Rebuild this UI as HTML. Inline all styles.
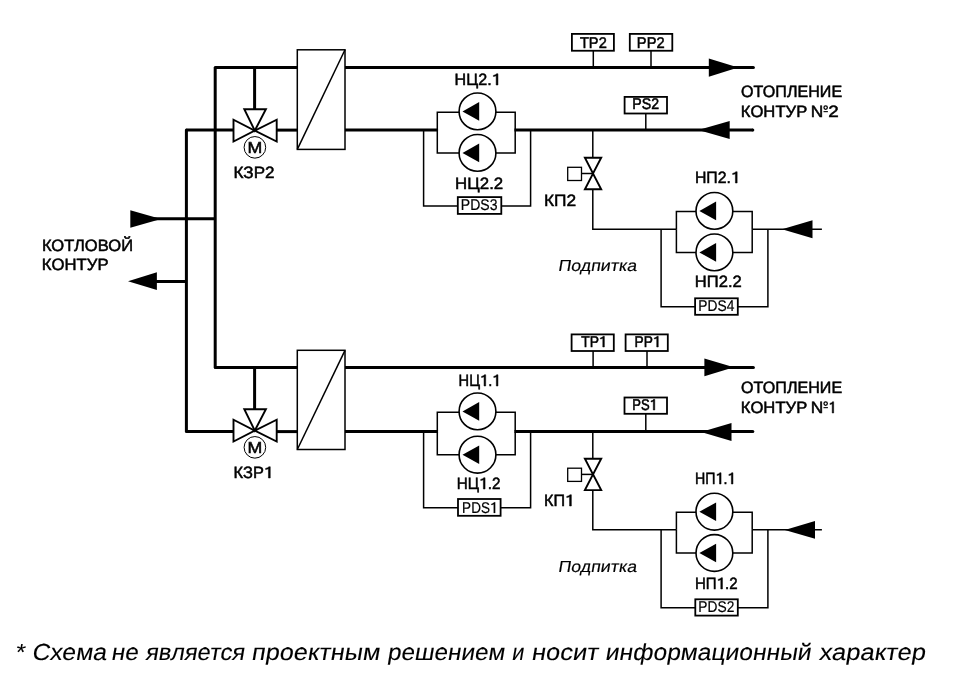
<!DOCTYPE html>
<html><head><meta charset="utf-8"><style>
html,body{margin:0;padding:0;background:#fff;}
svg{display:block;will-change:transform;}
text{font-family:"Liberation Sans",sans-serif;fill:#000;}
</style></head><body>
<svg width="954" height="682" viewBox="0 0 954 682" stroke="#000" fill="none">
<line x1="186.4" y1="130.1" x2="186.4" y2="431.6" stroke-width="3.0" stroke-linecap="round"/>
<line x1="215.2" y1="67.6" x2="215.2" y2="367.4" stroke-width="3.0" stroke-linecap="round"/>
<line x1="215.2" y1="67.6" x2="297.3" y2="67.6" stroke-width="3.0" stroke-linecap="butt"/>
<line x1="345" y1="67.6" x2="753.4" y2="67.6" stroke-width="3.0" stroke-linecap="round"/>
<line x1="186.4" y1="130.1" x2="233.5" y2="130.1" stroke-width="3.0" stroke-linecap="butt"/>
<line x1="276.7" y1="130.1" x2="297.3" y2="130.1" stroke-width="3.0" stroke-linecap="butt"/>
<line x1="345" y1="130.1" x2="438.05" y2="130.1" stroke-width="3.0" stroke-linecap="butt"/>
<line x1="514.45" y1="130.1" x2="752.8" y2="130.1" stroke-width="3.0" stroke-linecap="butt"/>
<circle cx="752.8" cy="130.1" r="1.5" fill="#000" stroke="none"/>
<line x1="254.6" y1="67.6" x2="254.6" y2="109.1" stroke-width="3.0" stroke-linecap="butt"/>
<polygon points="233.50,119.70 233.50,141.50 254.80,130.60" fill="#fff" stroke="#000" stroke-width="1.9" stroke-linejoin="miter"/>
<polygon points="276.70,119.70 276.70,141.50 254.80,130.60" fill="#fff" stroke="#000" stroke-width="1.9" stroke-linejoin="miter"/>
<polygon points="244.30,109.20 265.90,109.20 254.80,130.60" fill="#fff" stroke="#000" stroke-width="1.9" stroke-linejoin="miter"/>
<circle cx="254.9" cy="147.35" r="10.8" fill="#fff" stroke-width="1.0"/>
<text transform="translate(247.58,153) skewX(0.3)" font-size="15.8" textLength="14.85" lengthAdjust="spacingAndGlyphs" stroke="#000" stroke-width="0.5">M</text>
<text transform="translate(233.54,178) skewX(0.3)" font-size="16.4" textLength="41.09" lengthAdjust="spacingAndGlyphs" stroke="#000" stroke-width="0.5">КЗР2</text>
<rect x="297.3" y="49.8" width="47.70" height="99.60" fill="#fff" stroke-width="1.5"/>
<line x1="297.3" y1="149.4" x2="345" y2="49.8" stroke-width="1.5" stroke-linecap="butt"/>
<polyline points="437.3,130.1 437.3,112.30000000000001 515.2,112.30000000000001 515.2,130.1" fill="none" stroke-width="1.5" stroke-linejoin="miter"/>
<polyline points="437.3,130.1 437.3,152.9 515.2,152.9 515.2,130.1" fill="none" stroke-width="1.5" stroke-linejoin="miter"/>
<polyline points="423.6,130.1 423.6,206.1 530.6,206.1 530.6,130.1" fill="none" stroke-width="1.5" stroke-linejoin="miter"/>
<circle cx="477.5" cy="111.4" r="18.4" fill="#fff" stroke-width="1.6"/>
<polygon points="462.50,111.40 479.20,102.10 479.20,120.70" fill="#000" stroke="none" stroke-linejoin="miter"/>
<circle cx="477.5" cy="152.9" r="18.4" fill="#fff" stroke-width="1.6"/>
<polygon points="462.50,152.90 479.20,143.60 479.20,162.20" fill="#000" stroke="none" stroke-linejoin="miter"/>
<rect x="457.8" y="197.1" width="43.50" height="16.80" fill="#fff" stroke-width="1.8"/>
<text transform="translate(460.74,210) skewX(0.3)" font-size="15.5" textLength="36.79" lengthAdjust="spacingAndGlyphs" stroke="#000" stroke-width="0.2">PDS3</text>
<path d="M496.17,85.00 L497.95,85.00 L497.95,73.72 L496.66,73.72 Q495.77,74.91 493.34,75.41 L493.34,76.47 Q495.12,76.31 496.17,75.73 Z" fill="#000" stroke="#000" stroke-width="0.5" stroke-linejoin="round"/>
<text transform="translate(454.62,85) skewX(0.3)" font-size="16.4" textLength="46.10" lengthAdjust="spacingAndGlyphs" stroke="#000" stroke-width="0.5">НЦ2. </text>
<text transform="translate(455.06,189) skewX(0.3)" font-size="16.4" textLength="48.17" lengthAdjust="spacingAndGlyphs" stroke="#000" stroke-width="0.5">НЦ2.2</text>
<line x1="593.3" y1="50.75" x2="593.3" y2="67.6" stroke-width="1.5" stroke-linecap="butt"/>
<rect x="571.9" y="33.9" width="42.00" height="16.85" fill="#fff" stroke-width="1.8"/>
<text transform="translate(579.92,48) skewX(0.3)" font-size="15.5" textLength="26.89" lengthAdjust="spacingAndGlyphs" stroke="#000" stroke-width="0.5">TP2</text>
<line x1="651.0" y1="50.75" x2="651.0" y2="67.6" stroke-width="1.5" stroke-linecap="butt"/>
<rect x="629.8" y="33.9" width="42.50" height="16.85" fill="#fff" stroke-width="1.8"/>
<text transform="translate(636.83,48) skewX(0.3)" font-size="15.5" textLength="27.85" lengthAdjust="spacingAndGlyphs" stroke="#000" stroke-width="0.5">PP2</text>
<line x1="645.8" y1="113.5" x2="645.8" y2="130.1" stroke-width="1.5" stroke-linecap="butt"/>
<rect x="624.6" y="96.9" width="42.40" height="16.60" fill="#fff" stroke-width="1.8"/>
<text transform="translate(632.18,109) skewX(0.3)" font-size="15.5" textLength="26.89" lengthAdjust="spacingAndGlyphs" stroke="#000" stroke-width="0.5">PS2</text>
<polygon points="708.80,58.45 708.80,76.75 738.20,67.60" fill="#000" stroke="none" stroke-linejoin="miter"/>
<polygon points="729.70,121.00 729.70,139.00 698.30,130.00" fill="#000" stroke="none" stroke-linejoin="miter"/>
<text transform="translate(741.08,97) skewX(0.3)" font-size="16.4" textLength="101.14" lengthAdjust="spacingAndGlyphs" stroke="#000" stroke-width="0.5">ОТОПЛЕНИЕ</text>
<text transform="translate(740.87,117) skewX(0.3)" font-size="16.4" textLength="66.44" lengthAdjust="spacingAndGlyphs" stroke="#000" stroke-width="0.5">КОНТУР</text>
<text transform="translate(810.81,117) skewX(0.3)" font-size="16.4" textLength="12.57" lengthAdjust="spacingAndGlyphs" stroke="#000" stroke-width="0.5">N</text>
<circle cx="825.65" cy="107.6" r="1.7" fill="none" stroke-width="1.25"/>
<rect x="823.5" y="111.10" width="4.4" height="1.1" fill="#000" stroke="none"/>
<text transform="translate(828.20,117) skewX(0.3)" font-size="16.4" textLength="10.51" lengthAdjust="spacingAndGlyphs" stroke="#000" stroke-width="0.5">2</text>
<line x1="592.8" y1="130.1" x2="592.8" y2="157.5" stroke-width="1.5" stroke-linecap="butt"/>
<polygon points="584.90,157.80 601.20,157.80 593.00,173.50" fill="#fff" stroke="#000" stroke-width="1.9" stroke-linejoin="miter"/>
<polygon points="584.90,189.20 601.20,189.20 593.00,173.50" fill="#fff" stroke="#000" stroke-width="1.9" stroke-linejoin="miter"/>
<line x1="581.4" y1="173.5" x2="593" y2="173.5" stroke-width="1.5" stroke-linecap="butt"/>
<rect x="567.7" y="167.3" width="13.80" height="13.20" fill="#fff" stroke-width="1.3"/>
<text transform="translate(543.92,206) skewX(0.3)" font-size="16.4" textLength="32.30" lengthAdjust="spacingAndGlyphs" stroke="#000" stroke-width="0.5">КП2</text>
<polyline points="592.8,189.2 592.8,229.2 676.4,229.2" fill="none" stroke-width="1.5" stroke-linejoin="miter"/>
<line x1="752.2" y1="229.2" x2="821.9" y2="229.2" stroke-width="1.5" stroke-linecap="butt"/>
<polyline points="676.4,229.2 676.4,211.4 752.2,211.4 752.2,229.2" fill="none" stroke-width="1.5" stroke-linejoin="miter"/>
<polyline points="676.4,229.2 676.4,252.4 752.2,252.4 752.2,229.2" fill="none" stroke-width="1.5" stroke-linejoin="miter"/>
<polyline points="661.1,229.2 661.1,306.7 767.9,306.7 767.9,229.2" fill="none" stroke-width="1.5" stroke-linejoin="miter"/>
<circle cx="714.4" cy="210.9" r="18.4" fill="#fff" stroke-width="1.6"/>
<polygon points="699.40,210.90 716.10,201.60 716.10,220.20" fill="#000" stroke="none" stroke-linejoin="miter"/>
<circle cx="714.4" cy="252.4" r="18.4" fill="#fff" stroke-width="1.6"/>
<polygon points="699.40,252.40 716.10,243.10 716.10,261.70" fill="#000" stroke="none" stroke-linejoin="miter"/>
<rect x="695.1" y="298.3" width="42.70" height="16.50" fill="#fff" stroke-width="1.8"/>
<text transform="translate(698.36,311) skewX(0.3)" font-size="15.5" textLength="36.15" lengthAdjust="spacingAndGlyphs" stroke="#000" stroke-width="0.2">PDS4</text>
<polygon points="812.50,220.20 812.50,238.20 782.00,229.20" fill="#000" stroke="none" stroke-linejoin="miter"/>
<path d="M735.40,183.00 L737.15,183.00 L737.15,171.72 L735.88,171.72 Q735.01,172.91 732.62,173.41 L732.62,174.47 Q734.37,174.31 735.40,173.73 Z" fill="#000" stroke="#000" stroke-width="0.5" stroke-linejoin="round"/>
<text transform="translate(694.89,183) skewX(0.3)" font-size="16.4" textLength="44.98" lengthAdjust="spacingAndGlyphs" stroke="#000" stroke-width="0.5">НП2. </text>
<text transform="translate(694.78,287) skewX(0.3)" font-size="16.4" textLength="47.02" lengthAdjust="spacingAndGlyphs" stroke="#000" stroke-width="0.5">НП2.2</text>
<text transform="translate(557.65,270.93) skewX(-9.5)" x="0" y="0" font-size="16.0" textLength="78.74" lengthAdjust="spacingAndGlyphs" stroke="#000" stroke-width="0.15">Подпитка</text>
<line x1="215.2" y1="367.4" x2="297.3" y2="367.4" stroke-width="3.0" stroke-linecap="butt"/>
<line x1="345" y1="367.4" x2="753.4" y2="367.4" stroke-width="3.0" stroke-linecap="round"/>
<line x1="186.4" y1="431.6" x2="233.5" y2="431.6" stroke-width="3.0" stroke-linecap="butt"/>
<line x1="276.7" y1="431.6" x2="297.3" y2="431.6" stroke-width="3.0" stroke-linecap="butt"/>
<line x1="345" y1="431.6" x2="438.05" y2="431.6" stroke-width="3.0" stroke-linecap="butt"/>
<line x1="514.45" y1="431.6" x2="752.8" y2="431.6" stroke-width="3.0" stroke-linecap="butt"/>
<circle cx="752.8" cy="431.6" r="1.5" fill="#000" stroke="none"/>
<line x1="254.6" y1="367.4" x2="254.6" y2="409.1" stroke-width="3.0" stroke-linecap="butt"/>
<polygon points="233.50,419.70 233.50,441.50 254.80,430.60" fill="#fff" stroke="#000" stroke-width="1.9" stroke-linejoin="miter"/>
<polygon points="276.70,419.70 276.70,441.50 254.80,430.60" fill="#fff" stroke="#000" stroke-width="1.9" stroke-linejoin="miter"/>
<polygon points="244.30,409.20 265.90,409.20 254.80,430.60" fill="#fff" stroke="#000" stroke-width="1.9" stroke-linejoin="miter"/>
<circle cx="254.9" cy="447.35" r="10.8" fill="#fff" stroke-width="1.0"/>
<text transform="translate(247.58,453) skewX(0.3)" font-size="15.8" textLength="14.85" lengthAdjust="spacingAndGlyphs" stroke="#000" stroke-width="0.5">M</text>
<path d="M268.44,478.00 L270.25,478.00 L270.25,466.73 L268.93,466.73 Q268.03,467.91 265.56,468.41 L265.56,469.47 Q267.37,469.31 268.44,468.73 Z" fill="#000" stroke="#000" stroke-width="0.5" stroke-linejoin="round"/>
<text transform="translate(233.59,478) skewX(0.3)" font-size="16.4" textLength="39.48" lengthAdjust="spacingAndGlyphs" stroke="#000" stroke-width="0.5">КЗР </text>
<rect x="297.3" y="350.3" width="47.70" height="99.20" fill="#fff" stroke-width="1.5"/>
<line x1="297.3" y1="449.5" x2="345" y2="350.3" stroke-width="1.5" stroke-linecap="butt"/>
<polyline points="437.3,431.6 437.3,412.29999999999995 515.2,412.29999999999995 515.2,431.6" fill="none" stroke-width="1.5" stroke-linejoin="miter"/>
<polyline points="437.3,431.6 437.3,454.7 515.2,454.7 515.2,431.6" fill="none" stroke-width="1.5" stroke-linejoin="miter"/>
<polyline points="423.6,431.6 423.6,507.7 530.6,507.7 530.6,431.6" fill="none" stroke-width="1.5" stroke-linejoin="miter"/>
<circle cx="477.5" cy="411.4" r="18.4" fill="#fff" stroke-width="1.6"/>
<polygon points="462.50,411.40 479.20,402.10 479.20,420.70" fill="#000" stroke="none" stroke-linejoin="miter"/>
<circle cx="477.5" cy="454.7" r="18.4" fill="#fff" stroke-width="1.6"/>
<polygon points="462.50,454.70 479.20,445.40 479.20,464.00" fill="#000" stroke="none" stroke-linejoin="miter"/>
<rect x="458" y="499" width="42.60" height="16.80" fill="#fff" stroke-width="1.8"/>
<path d="M493.71,513.00 L495.20,513.00 L495.20,502.34 L494.11,502.34 Q493.37,503.47 491.33,503.93 L491.33,504.94 Q492.83,504.79 493.71,504.24 Z" fill="#000" stroke="#000" stroke-width="0.2" stroke-linejoin="round"/>
<text transform="translate(462.08,513) skewX(0.3)" font-size="15.5" textLength="35.44" lengthAdjust="spacingAndGlyphs" stroke="#000" stroke-width="0.2">PDS </text>
<path d="M484.07,386.00 L485.69,386.00 L485.69,374.73 L484.51,374.73 Q483.70,375.91 481.50,376.41 L481.50,377.47 Q483.12,377.31 484.07,376.73 Z" fill="#000" stroke="#000" stroke-width="0.5" stroke-linejoin="round"/>
<path d="M496.33,386.00 L497.95,386.00 L497.95,374.73 L496.77,374.73 Q495.97,375.91 493.76,376.41 L493.76,377.47 Q495.38,377.31 496.33,376.73 Z" fill="#000" stroke="#000" stroke-width="0.5" stroke-linejoin="round"/>
<text transform="translate(458.54,386) skewX(0.3)" font-size="16.4" textLength="41.93" lengthAdjust="spacingAndGlyphs" stroke="#000" stroke-width="0.5">НЦ . </text>
<path d="M483.38,489.00 L485.06,489.00 L485.06,477.73 L483.84,477.73 Q482.99,478.91 480.70,479.41 L480.70,480.47 Q482.38,480.31 483.38,479.73 Z" fill="#000" stroke="#000" stroke-width="0.5" stroke-linejoin="round"/>
<text transform="translate(456.79,489) skewX(0.3)" font-size="16.4" textLength="43.66" lengthAdjust="spacingAndGlyphs" stroke="#000" stroke-width="0.5">НЦ .2</text>
<line x1="593.1" y1="351.0" x2="593.1" y2="367.4" stroke-width="1.5" stroke-linecap="butt"/>
<rect x="571.6" y="334.4" width="42.20" height="16.60" fill="#fff" stroke-width="1.8"/>
<path d="M602.81,347.00 L604.35,347.00 L604.35,336.34 L603.23,336.34 Q602.47,337.47 600.37,337.93 L600.37,338.94 Q601.91,338.79 602.81,338.24 Z" fill="#000" stroke="#000" stroke-width="0.5" stroke-linejoin="round"/>
<text transform="translate(581.14,347) skewX(0.3)" font-size="15.5" textLength="25.60" lengthAdjust="spacingAndGlyphs" stroke="#000" stroke-width="0.5">TP </text>
<line x1="647.0" y1="351.0" x2="647.0" y2="367.4" stroke-width="1.5" stroke-linecap="butt"/>
<rect x="625.6" y="334.4" width="42.20" height="16.60" fill="#fff" stroke-width="1.8"/>
<path d="M656.73,347.00 L658.25,347.00 L658.25,336.34 L657.15,336.34 Q656.39,337.47 654.31,337.93 L654.31,338.94 Q655.83,338.79 656.73,338.24 Z" fill="#000" stroke="#000" stroke-width="0.5" stroke-linejoin="round"/>
<text transform="translate(634.51,347) skewX(0.3)" font-size="15.5" textLength="26.10" lengthAdjust="spacingAndGlyphs" stroke="#000" stroke-width="0.5">PP </text>
<line x1="645.8" y1="413.8" x2="645.8" y2="431.6" stroke-width="1.5" stroke-linecap="butt"/>
<rect x="624.5" y="397.5" width="42.50" height="16.30" fill="#fff" stroke-width="1.8"/>
<path d="M653.31,410.00 L654.75,410.00 L654.75,399.34 L653.70,399.34 Q652.98,400.47 651.02,400.93 L651.02,401.94 Q652.46,401.79 653.31,401.24 Z" fill="#000" stroke="#000" stroke-width="0.5" stroke-linejoin="round"/>
<text transform="translate(632.27,410) skewX(0.3)" font-size="15.5" textLength="24.72" lengthAdjust="spacingAndGlyphs" stroke="#000" stroke-width="0.5">PS </text>
<polygon points="704.40,358.40 704.40,376.30 733.90,367.35" fill="#000" stroke="none" stroke-linejoin="miter"/>
<polygon points="731.50,423.00 731.50,441.00 701.00,432.00" fill="#000" stroke="none" stroke-linejoin="miter"/>
<text transform="translate(741.08,393) skewX(0.3)" font-size="16.4" textLength="101.14" lengthAdjust="spacingAndGlyphs" stroke="#000" stroke-width="0.5">ОТОПЛЕНИЕ</text>
<text transform="translate(740.87,413) skewX(0.3)" font-size="16.4" textLength="66.44" lengthAdjust="spacingAndGlyphs" stroke="#000" stroke-width="0.5">КОНТУР</text>
<text transform="translate(810.81,413) skewX(0.3)" font-size="16.4" textLength="12.57" lengthAdjust="spacingAndGlyphs" stroke="#000" stroke-width="0.5">N</text>
<circle cx="825.65" cy="403.6" r="1.7" fill="none" stroke-width="1.25"/>
<rect x="823.5" y="407.10" width="4.4" height="1.1" fill="#000" stroke="none"/>
<path d="M832.22,413.00 L833.65,413.00 L833.65,401.73 L832.61,401.73 Q831.90,402.91 829.95,403.41 L829.95,404.47 Q831.38,404.31 832.22,403.73 Z" fill="#000" stroke="#000" stroke-width="0.5" stroke-linejoin="round"/>
<line x1="592.8" y1="431.6" x2="592.8" y2="458.4" stroke-width="1.5" stroke-linecap="butt"/>
<polygon points="584.90,458.70 601.20,458.70 593.00,474.40" fill="#fff" stroke="#000" stroke-width="1.9" stroke-linejoin="miter"/>
<polygon points="584.90,490.10 601.20,490.10 593.00,474.40" fill="#fff" stroke="#000" stroke-width="1.9" stroke-linejoin="miter"/>
<line x1="581.4" y1="474.4" x2="593" y2="474.4" stroke-width="1.5" stroke-linecap="butt"/>
<rect x="567.7" y="468.19999999999993" width="13.80" height="13.20" fill="#fff" stroke-width="1.3"/>
<path d="M569.57,506.00 L571.35,506.00 L571.35,494.73 L570.05,494.73 Q569.16,495.91 566.73,496.41 L566.73,497.47 Q568.51,497.31 569.57,496.73 Z" fill="#000" stroke="#000" stroke-width="0.5" stroke-linejoin="round"/>
<text transform="translate(544.01,506) skewX(0.3)" font-size="16.4" textLength="30.11" lengthAdjust="spacingAndGlyphs" stroke="#000" stroke-width="0.5">КП </text>
<polyline points="592.8,490.09999999999997 592.8,529.7 676.4,529.7" fill="none" stroke-width="1.5" stroke-linejoin="miter"/>
<line x1="752.2" y1="529.7" x2="821.9" y2="529.7" stroke-width="1.5" stroke-linecap="butt"/>
<polyline points="676.4,529.7 676.4,512.2 752.2,512.2 752.2,529.7" fill="none" stroke-width="1.5" stroke-linejoin="miter"/>
<polyline points="676.4,529.7 676.4,553 752.2,553 752.2,529.7" fill="none" stroke-width="1.5" stroke-linejoin="miter"/>
<polyline points="661.1,529.7 661.1,607.8 767.9,607.8 767.9,529.7" fill="none" stroke-width="1.5" stroke-linejoin="miter"/>
<circle cx="714.4" cy="511.7" r="18.4" fill="#fff" stroke-width="1.6"/>
<polygon points="699.40,511.70 716.10,502.40 716.10,521.00" fill="#000" stroke="none" stroke-linejoin="miter"/>
<circle cx="714.4" cy="553" r="18.4" fill="#fff" stroke-width="1.6"/>
<polygon points="699.40,553.00 716.10,543.70 716.10,562.30" fill="#000" stroke="none" stroke-linejoin="miter"/>
<rect x="695.3" y="599.3" width="42.50" height="16.30" fill="#fff" stroke-width="1.8"/>
<text transform="translate(698.36,612) skewX(0.3)" font-size="15.5" textLength="36.06" lengthAdjust="spacingAndGlyphs" stroke="#000" stroke-width="0.2">PDS2</text>
<polygon points="815.00,521.00 815.00,538.80 784.80,529.90" fill="#000" stroke="none" stroke-linejoin="miter"/>
<path d="M719.49,484.00 L721.06,484.00 L721.06,472.73 L719.92,472.73 Q719.13,473.91 716.99,474.41 L716.99,475.47 Q718.56,475.31 719.49,474.73 Z" fill="#000" stroke="#000" stroke-width="0.5" stroke-linejoin="round"/>
<path d="M731.38,484.00 L732.95,484.00 L732.95,472.73 L731.81,472.73 Q731.03,473.91 728.89,474.41 L728.89,475.47 Q730.45,475.31 731.38,474.73 Z" fill="#000" stroke="#000" stroke-width="0.5" stroke-linejoin="round"/>
<text transform="translate(695.02,484) skewX(0.3)" font-size="16.4" textLength="40.37" lengthAdjust="spacingAndGlyphs" stroke="#000" stroke-width="0.5">НП . </text>
<path d="M720.80,589.00 L722.45,589.00 L722.45,577.73 L721.25,577.73 Q720.42,578.91 718.15,579.41 L718.15,580.47 Q719.81,580.31 720.80,579.73 Z" fill="#000" stroke="#000" stroke-width="0.5" stroke-linejoin="round"/>
<text transform="translate(694.91,589) skewX(0.3)" font-size="16.4" textLength="42.72" lengthAdjust="spacingAndGlyphs" stroke="#000" stroke-width="0.5">НП .2</text>
<text transform="translate(557.65,571.92) skewX(-9.5)" x="0" y="0" font-size="16.0" textLength="78.74" lengthAdjust="spacingAndGlyphs" stroke="#000" stroke-width="0.15">Подпитка</text>
<line x1="150" y1="218.7" x2="215.2" y2="218.7" stroke-width="3.0" stroke-linecap="butt"/>
<polygon points="130.30,210.20 130.30,227.80 161.00,219.00" fill="#000" stroke="none" stroke-linejoin="miter"/>
<line x1="150" y1="281.5" x2="186.4" y2="281.5" stroke-width="3.0" stroke-linecap="butt"/>
<polygon points="156.90,272.20 156.90,290.10 128.00,281.15" fill="#000" stroke="none" stroke-linejoin="miter"/>
<text transform="translate(41.88,251) skewX(0.3)" font-size="16.4" textLength="91.19" lengthAdjust="spacingAndGlyphs" stroke="#000" stroke-width="0.5">КОТЛОВОЙ</text>
<text transform="translate(41.87,270) skewX(0.3)" font-size="16.4" textLength="66.75" lengthAdjust="spacingAndGlyphs" stroke="#000" stroke-width="0.5">КОНТУР</text>
<text transform="translate(14.43,660.15) skewX(-9.5)" x="0" y="0" font-size="23.2" textLength="9.52" lengthAdjust="spacingAndGlyphs" stroke="#000" stroke-width="0.1">*</text>
<text transform="translate(31.39,660.15) skewX(-9.5)" x="0" y="0" font-size="23.2" textLength="74.54" lengthAdjust="spacingAndGlyphs" stroke="#000" stroke-width="0.1">Схема</text>
<text transform="translate(110.87,660.15) skewX(-9.5)" x="0" y="0" font-size="23.2" textLength="27.05" lengthAdjust="spacingAndGlyphs" stroke="#000" stroke-width="0.1">не</text>
<text transform="translate(145.04,660.15) skewX(-9.5)" x="0" y="0" font-size="23.2" textLength="99.10" lengthAdjust="spacingAndGlyphs" stroke="#000" stroke-width="0.1">является</text>
<text transform="translate(251.01,660.15) skewX(-9.5)" x="0" y="0" font-size="23.2" textLength="128.31" lengthAdjust="spacingAndGlyphs" stroke="#000" stroke-width="0.1">проектным</text>
<text transform="translate(387.02,660.15) skewX(-9.5)" x="0" y="0" font-size="23.2" textLength="117.23" lengthAdjust="spacingAndGlyphs" stroke="#000" stroke-width="0.1">решением</text>
<text transform="translate(511.27,660.15) skewX(-9.5)" x="0" y="0" font-size="23.2" textLength="12.06" lengthAdjust="spacingAndGlyphs" stroke="#000" stroke-width="0.1">и</text>
<text transform="translate(531.00,660.15) skewX(-9.5)" x="0" y="0" font-size="23.2" textLength="66.78" lengthAdjust="spacingAndGlyphs" stroke="#000" stroke-width="0.1">носит</text>
<text transform="translate(604.86,660.15) skewX(-9.5)" x="0" y="0" font-size="23.2" textLength="205.73" lengthAdjust="spacingAndGlyphs" stroke="#000" stroke-width="0.1">информационный</text>
<text transform="translate(818.49,660.15) skewX(-9.5)" x="0" y="0" font-size="23.2" textLength="106.49" lengthAdjust="spacingAndGlyphs" stroke="#000" stroke-width="0.1">характер</text>
</svg>
</body></html>
